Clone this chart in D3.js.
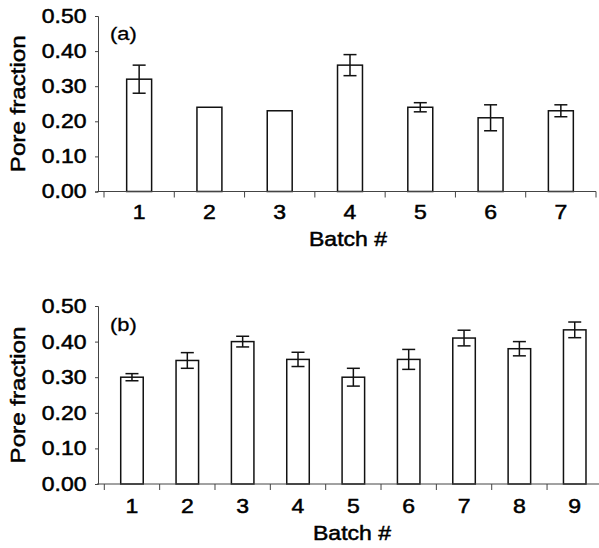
<!DOCTYPE html>
<html>
<head>
<meta charset="utf-8">
<script src="https://cdn.jsdelivr.net/npm/d3@7"></script>
<style>
  body { margin: 0; background: #fff; }
  text { font-family: "Liberation Sans", Arial, sans-serif; fill: #000; }
</style>
</head>
<body>
<script>
// panel (a) data
var batchesA = ["1", "2", "3", "4", "5", "6", "7"];
var poreA = [0.32, 0.24, 0.23, 0.36, 0.24, 0.21, 0.23];
var errA = [0.04, 0, 0, 0.03, 0.013, 0.037, 0.017];

// panel (b) data
var batchesB = ["1", "2", "3", "4", "5", "6", "7", "8", "9"];
var poreB = [0.30, 0.347, 0.40, 0.35, 0.30, 0.35, 0.41, 0.38, 0.433];
var errB = [0.01, 0.022, 0.015, 0.02, 0.025, 0.028, 0.022, 0.02, 0.022];

var yTicks = [0, 0.1, 0.2, 0.3, 0.4, 0.5];

var W = 599, H = 548;
var svg = d3.select("body").append("svg")
    .attr("width", W)
    .attr("height", H);

// the figure's lettering is a little wider than Helvetica
var stretch = "scale(1.15,1)";
var heavy = 0.5;

function drawPanel(opts) {
    var g = svg.append("g");

    var y = d3.scaleLinear().domain([0, 0.5]).range([opts.bottom, opts.top]);
    var x = d3.scaleBand()
        .domain(opts.cats)
        .range([opts.x0, opts.x1])
        .paddingInner(opts.pad)
        .paddingOuter(opts.pad / 2);
    var step = x.step();

    // bars
    g.selectAll("rect.bar")
        .data(opts.cats)
        .enter().append("rect")
        .attr("class", "bar")
        .attr("x", function (d) { return x(d); })
        .attr("y", function (d, i) { return y(opts.vals[i]); })
        .attr("width", x.bandwidth())
        .attr("height", function (d, i) { return y(0) - y(opts.vals[i]); })
        .attr("fill", "#fff")
        .attr("stroke", "#111")
        .attr("stroke-width", 1.5);

    // error bars
    var cap = 6.5;
    function idx(d) { return opts.cats.indexOf(d); }
    function cx(d) { return x(d) + x.bandwidth() / 2; }
    function hi(d) { return y(opts.vals[idx(d)] + opts.errs[idx(d)]); }
    function lo(d) { return y(opts.vals[idx(d)] - opts.errs[idx(d)]); }
    var eb = g.selectAll("g.err")
        .data(opts.cats.filter(function (d, i) { return opts.errs[i] > 0; }))
        .enter().append("g")
        .attr("class", "err")
        .attr("stroke", "#111")
        .attr("stroke-width", 1.5);
    eb.append("line")
        .attr("x1", cx).attr("x2", cx)
        .attr("y1", hi).attr("y2", lo);
    eb.append("line")
        .attr("x1", function (d) { return cx(d) - cap; })
        .attr("x2", function (d) { return cx(d) + cap; })
        .attr("y1", hi).attr("y2", hi);
    eb.append("line")
        .attr("x1", function (d) { return cx(d) - cap; })
        .attr("x2", function (d) { return cx(d) + cap; })
        .attr("y1", lo).attr("y2", lo);

    // y axis
    var yAxis = g.append("g")
        .attr("transform", "translate(" + opts.left + ",0)")
        .call(d3.axisLeft(y).tickValues(yTicks).tickFormat(d3.format(".2f"))
            .tickSize(3).tickPadding(7));
    yAxis.select(".domain").attr("stroke", "#444");
    yAxis.selectAll(".tick line").attr("stroke", "#444");
    yAxis.selectAll("text")
        .attr("font-size", 20)
        .attr("font-family", null)
        .attr("stroke", "#000").attr("stroke-width", heavy)
        .attr("transform", stretch);

    // x axis line with ticks on the batch boundaries
    var bounds = opts.cats.map(function (d) { return x(d) - step * opts.pad / 2; });
    bounds.push(opts.x1);
    g.append("line")
        .attr("x1", opts.left - 1).attr("x2", opts.x1)
        .attr("y1", y(0)).attr("y2", y(0))
        .attr("stroke", "#444");
    g.selectAll("line.btick")
        .data(bounds)
        .enter().append("line")
        .attr("class", "btick")
        .attr("x1", function (d) { return d; }).attr("x2", function (d) { return d; })
        .attr("y1", y(0)).attr("y2", y(0) + 6)
        .attr("stroke", "#444");

    // batch labels
    var xAxis = g.append("g")
        .attr("transform", "translate(0," + y(0) + ")")
        .call(d3.axisBottom(x).tickSize(0).tickPadding(opts.labPad));
    xAxis.select(".domain").remove();
    xAxis.selectAll(".tick").attr("transform", null);
    xAxis.selectAll("text")
        .attr("font-size", 20)
        .attr("font-family", null)
        .attr("stroke", "#000").attr("stroke-width", heavy)
        .attr("transform", stretch)
        .attr("x", function (d) { return cx(d) / 1.15; });

    // axis titles
    g.append("text")
        .attr("transform", "translate(" + opts.titleX + "," + opts.titleY + ") " + stretch)
        .attr("text-anchor", "middle")
        .attr("font-size", 20)
        .attr("stroke", "#000").attr("stroke-width", heavy)
        .text("Batch #");

    g.append("text")
        .attr("transform", "translate(25," + ((opts.top + opts.bottom) / 2) + ") rotate(-90) " + stretch)
        .attr("text-anchor", "middle")
        .attr("font-size", 21)
        .attr("stroke", "#000").attr("stroke-width", heavy)
        .text("Pore fraction");

    g.append("text")
        .attr("transform", "translate(" + (opts.left + 12) + "," + opts.tagY + ") " + stretch)
        .attr("font-size", 19)
        .attr("stroke", "#000").attr("stroke-width", 0.3)
        .text(opts.tag);
}

drawPanel({
    cats: batchesA, vals: poreA, errs: errA,
    top: 16, bottom: 191.5, left: 98,
    x0: 104, x1: 596, pad: 0.645,
    labPad: 13, titleX: 348, titleY: 246, tagY: 40, tag: "(a)"
});

drawPanel({
    cats: batchesB, vals: poreB, errs: errB,
    top: 306, bottom: 484, left: 98,
    x0: 104.3, x1: 602.4, pad: 0.593,
    labPad: 15, titleX: 352, titleY: 540, tagY: 331, tag: "(b)"
});
</script>
</body>
</html>
